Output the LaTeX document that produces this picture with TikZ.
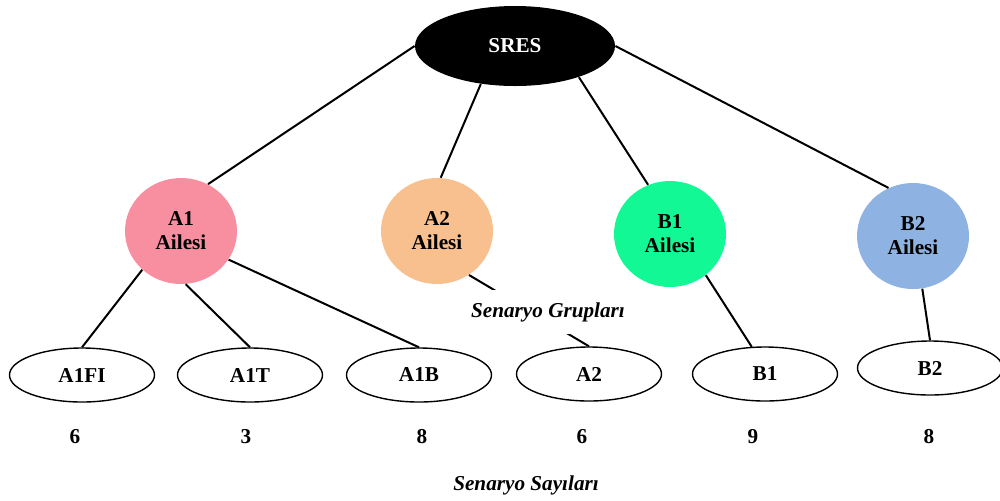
\documentclass[tikz,border=0pt]{standalone}
\usepackage{fontspec}
\setmainfont{Liberation Serif}
\usetikzlibrary{shapes.geometric}
\definecolor{famAone}{HTML}{F88FA0}
\definecolor{famAtwo}{HTML}{F8C08E}
\definecolor{famBone}{HTML}{12F894}
\definecolor{famBtwo}{HTML}{8EB2E2}
\begin{document}
\begin{tikzpicture}[x=0.5pt,y=-0.5pt,
  every node/.style={font=\bfseries\fontsize{10.6}{12}\selectfont},
  family/.style={ellipse, minimum width=56pt, minimum height=53pt, inner sep=0pt, align=center},
  scen/.style={ellipse, draw, line width=0.7pt, minimum width=72.5pt, minimum height=27pt, inner sep=0pt},
  link/.style={line width=1pt},
  caption/.style={font=\bfseries\itshape\fontsize{10.6}{12}\selectfont}]
\useasboundingbox (0,0) rectangle (1000,500);

% root
\node[ellipse, fill=black, text=white, minimum width=100pt, minimum height=40pt, inner sep=0pt] (sres) at (515,46) {SRES};

% scenario families
\node[family, fill=famAone] (fA1) at (181,231) {A1\\Ailesi};
\node[family, fill=famAtwo] (fA2) at (437,231) {A2\\Ailesi};
\node[family, fill=famBone] (fB1) at (670,234) {B1\\Ailesi};
\node[family, fill=famBtwo] (fB2) at (913,236) {B2\\Ailesi};

% scenario groups
\node[scen] (gA1FI) at (82,375) {A1FI};
\node[scen] (gA1T)  at (250,375) {A1T};
\node[scen] (gA1B)  at (419,375) {A1B};
\node[scen] (gA2)   at (589,374) {A2};
\node[scen] (gB1)   at (765,374) {B1};
\node[scen] (gB2)   at (930,368) {B2};

% scenario counts
\node (nA1FI) at (75,437) {6};
\node (nA1T)  at (246,437) {3};
\node (nA1B)  at (422,437) {8};
\node (nA2)   at (582,437) {6};
\node (nB1)   at (753,437) {9};
\node (nB2)   at (929,437) {8};

% links
\draw[link] (sres.west) -- (fA1.60);
\draw[link] (sres.228) -- (fA2.86);
\draw[link] (sres.-26) -- (fB1.114);
\draw[link] (sres.east) -- (fB2.117);
\draw[link] (fA1.225) -- (gA1FI.north);
\draw[link] (fA1.-85) -- (gA1T.north);
\draw[link] (fA1.-31) -- (gA1B.north);
\draw[link] (fA2.-54) -- (gA2.north);
\draw[link] (fB1.-49) -- (gB1.116);
\draw[link] (fB2.-80) -- (gB2.north);

% captions
\node[caption, fill=white, minimum height=22pt, inner xsep=1pt] (capGroups) at (548,312) {Senaryo Grupları};
\node[caption] (capCounts) at (526,485) {Senaryo Sayıları};
\end{tikzpicture}
\end{document}
